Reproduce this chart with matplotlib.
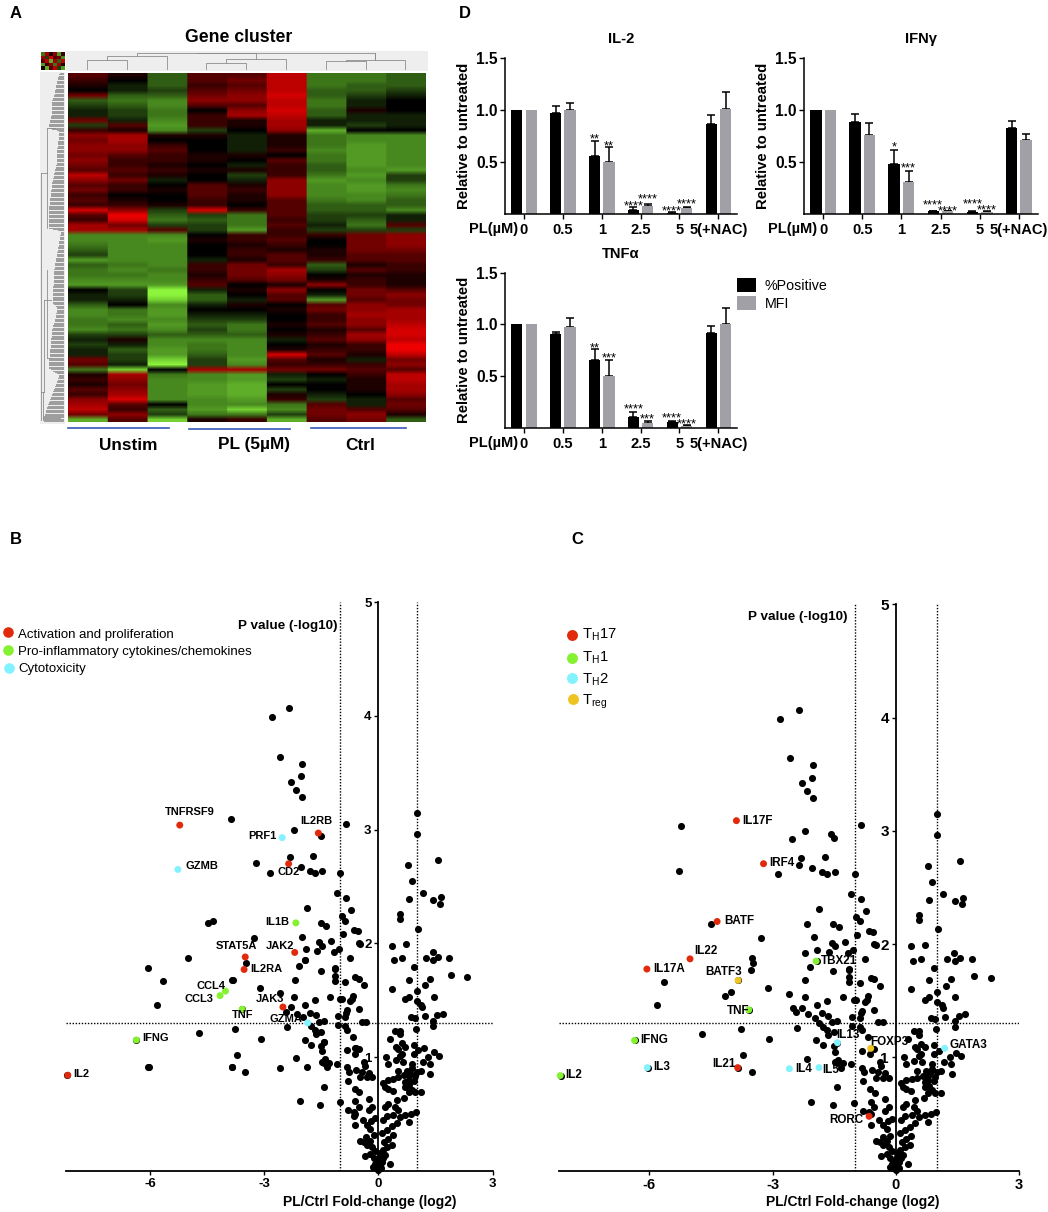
import numpy as np
import matplotlib
matplotlib.use("Agg")
import matplotlib.pyplot as plt
from matplotlib.colors import LinearSegmentedColormap
from matplotlib.patches import Rectangle

plt.rcParams['font.family'] = ['Liberation Sans', 'DejaVu Sans']
plt.rcParams['mathtext.fontset'] = 'custom'
plt.rcParams['mathtext.rm'] = 'Liberation Sans'
plt.rcParams['mathtext.default'] = 'rm'

W, H = 1048, 1212

# ---------- Panel A data: expression (-9 green .. +9 red) ----------
sample_groups = ["Unstim", "PL (5µM)", "Ctrl"]
heat_rows = [
 [3,1,-3,3,3,7,-4,-4,-3],[2,0,-3,3,4,7,-4,-4,-3],[1,-1,-3,2,3,7,-4,-3,-3],[0,-1,-2,3,4,7,-3,-3,-2],
 [4,-3,-3,4,5,8,-3,-2,-1],[-3,-4,-5,5,5,7,-4,-1,0],[-2,-3,-5,3,3,7,-4,-1,0],[-1,-2,-4,0,5,8,-3,1,0],
 [-1,-2,-4,2,6,7,-3,-1,-1],[4,-1,-5,2,1,6,-1,-1,-1],[-2,3,-6,2,1,6,-1,-2,-1],[2,1,-5,-2,0,5,-7,0,0],
 [5,6,1,1,-1,1,-4,-5,-5],[4,6,0,0,-1,1,-4,-5,-5],[5,5,2,0,-1,1,-4,-6,-5],[5,5,3,0,-1,2,-5,-6,-5],
 [4,3,2,1,1,0,-4,-6,-5],[5,2,2,1,0,3,-4,-6,-5],[4,2,1,0,-1,2,-3,-6,-5],[3,3,2,1,1,2,-3,-5,-6],
 [7,2,1,0,-2,2,-4,-6,-2],[5,4,-1,0,-1,5,-6,-5,-2],[3,2,0,3,1,5,-5,-6,-4],[4,2,1,3,2,5,-5,-6,-5],
 [2,0,0,3,1,5,-5,-5,-4],[3,1,0,2,1,3,-4,-5,-3],[2,2,1,2,0,3,-3,-3,-3],[8,5,-2,8,2,3,-3,-3,-5],
 [3,9,-3,-2,-4,3,-2,-2,-1],[2,8,-4,-3,-4,2,-2,-3,-1],[6,4,-2,-2,-4,3,-1,-4,3],[6,6,3,-2,-6,2,-2,-2,-2],
 [-5,-5,-5,0,2,2,2,4,5],[-5,-5,-6,1,2,3,0,4,5],[-4,-5,-5,0,1,2,0,4,5],[-3,-5,-5,0,2,1,1,4,4],
 [-2,-5,-5,0,2,3,1,3,3],[-6,-5,-5,-1,1,3,2,3,3],[-3,-4,-5,2,4,2,-3,1,2],[-4,-5,-4,2,4,6,-2,3,2],
 [-4,-4,-5,1,4,5,0,1,1],[-5,-5,-5,2,3,4,1,2,1],[-6,-6,-6,3,0,1,5,2,1],[0,-2,-9,-1,1,5,0,4,3],
 [-1,-2,-9,-3,0,3,-1,4,5],[-1,-1,-8,-3,-1,3,-6,3,4],[-3,0,-5,-1,1,0,3,5,4],[-5,-4,-6,0,0,1,4,5,6],
 [-5,-4,-6,-1,-1,0,2,6,6],[-4,-5,-5,-2,-2,0,2,5,6],[-4,-3,-6,-3,-4,1,3,5,7],[-5,-4,-5,-2,-4,0,1,3,8],
 [-2,-2,-3,-3,-3,1,2,6,8],[-1,1,-5,-5,-5,-1,3,5,7],[-2,-1,-5,-4,-5,0,1,2,9],[-1,-3,-6,-4,-5,1,2,2,9],
 [-1,-2,-6,-3,-5,8,3,1,7],[4,-2,-8,-2,-6,3,1,-1,4],[3,-1,-9,-2,-5,2,2,2,5],[-4,-8,0,6,6,4,4,3,3],
 [1,6,-4,-5,-6,-1,0,2,7],[2,5,-5,-5,-6,-2,-1,1,7],[1,4,-5,-6,-7,0,0,1,6],[3,5,-5,-6,-7,-2,0,1,6],
 [2,6,-5,-6,-7,1,-1,0,5],[5,8,-5,-5,-6,2,-2,-1,3],[6,3,0,-5,-5,-4,3,-1,4],[7,2,-3,-6,-8,-5,4,3,3],
 [4,5,-2,-4,-4,-2,4,5,1],[-7,3,-8,1,2,-7,3,4,-3],
]
thumb_rows = [[-4,6,1,5,-6,2],[6,-2,8,3,4,-5],[3,7,-7,6,-3,7],[-6,2,5,-4,6,1],[1,-7,3,7,-2,-6]]

# ---------- Panel D data ----------
dose_labels = ["0", "0.5", "1", "2.5", "5", "5(+NAC)"]
il2_pos = [1.0, 0.97, 0.55, 0.04, 0.01, 0.86]
il2_pos_top = [1.0, 1.04, 0.70, 0.06, 0.015, 0.95]
il2_mfi = [1.0, 1.0, 0.50, 0.07, 0.05, 1.01]
il2_mfi_top = [1.0, 1.06, 0.64, 0.09, 0.06, 1.17]
ifn_pos = [1.0, 0.88, 0.48, 0.025, 0.02, 0.82]
ifn_pos_top = [1.0, 0.96, 0.61, 0.03, 0.025, 0.89]
ifn_mfi = [1.0, 0.76, 0.30, 0.025, 0.02, 0.71]
ifn_mfi_top = [1.0, 0.87, 0.41, 0.03, 0.03, 0.77]
tnf_pos = [1.0, 0.91, 0.66, 0.11, 0.06, 0.92]
tnf_pos_top = [1.0, 0.93, 0.76, 0.15, 0.065, 0.99]
tnf_mfi = [1.0, 0.98, 0.50, 0.05, 0.02, 1.0]
tnf_mfi_top = [1.0, 1.06, 0.66, 0.07, 0.03, 1.16]
# (group, series, stars, y)
il2_stars = [(2,0,"**",.75),(2,1,"**",.685),(3,0,"****",.105),(3,1,"****",.175),(4,0,"****",.06),(4,1,"****",.13)]
ifn_stars = [(2,0,"*",.67),(2,1,"***",.47),(3,0,"****",.115),(3,1,"****",.06),(4,0,"****",.13),(4,1,"****",.07)]
tnf_stars = [(2,0,"**",.81),(2,1,"***",.705),(3,0,"****",.215),(3,1,"***",.12),(4,0,"****",.13),(4,1,"****",.07)]

# ---------- Volcano data ----------
volcano = [
(-2.35,4.07),(-2.81,3.99),(-2.58,3.64),(-2.02,3.58),(-2.04,3.47),(-2.29,3.42),(-2.16,3.35),(-2.01,3.29),
(-0.85,3.05),(-2.22,3.0),(-1.51,2.94),(1.01,3.15),(1.0,2.96),(0.78,2.69),(1.57,2.73),(0.88,2.55),
(-2.32,2.76),(-1.72,2.77),(-2.86,2.62),(-2.04,2.67),(-1.80,2.64),(-1.67,2.62),(-1.48,2.64),(-1.0,2.62),
(-1.08,2.44),(-0.85,2.40),(0.8,2.39),(1.16,2.44),(1.43,2.38),(1.63,2.41),(1.62,2.35),
(-1.87,2.31),(-0.72,2.29),(-0.97,2.24),(-0.87,2.2),(0.57,2.26),(0.57,2.21),(-1.52,2.18),(-1.38,2.15),(-4.49,2.18),
(-0.65,2.12),(-0.55,2.11),(-0.94,2.08),(1.03,2.13),(-2.0,2.06),(-3.27,2.05),(-1.56,2.01),(-1.24,2.02),(-1.48,1.98),
(-0.52,2.0),(-0.49,1.99),(0.36,1.98),(0.72,1.99),(-1.91,1.95),(-1.62,1.93),(-1.05,1.95),(-1.16,1.92),(-0.76,1.87),
(0.42,1.85),(0.62,1.87),(1.25,1.87),(1.42,1.92),(1.43,1.85),(1.57,1.88),(1.85,1.87),(-3.47,1.83),
(-1.93,1.85),(-2.09,1.80),(-1.15,1.78),(-1.13,1.77),(-1.52,1.76),(0.92,1.79),(1.9,1.72),(2.32,1.70),(0.8,1.68),
(1.34,1.69),(1.22,1.63),(-1.15,1.71),(-1.15,1.67),(-0.87,1.66),(-0.61,1.7),(-0.52,1.69),(-0.39,1.63),(-2.2,1.68),
(-3.83,1.68),(-5.65,1.67),(-3.12,1.61),(-2.6,1.56),(0.36,1.6),(1.0,1.58),(1.45,1.53),(-2.22,1.53),(-1.28,1.53),
(-1.67,1.5),(-1.01,1.51),(-0.97,1.51),(-0.67,1.54),(-0.74,1.49),(-0.7,1.51),(0.8,1.53),(0.7,1.51),(1.0,1.49),(1.12,1.46),(1.15,1.44),
(-1.93,1.46),(-5.81,1.46),(-2.29,1.44),(-2.42,1.4),(-2.14,1.38),(-1.8,1.39),(-1.64,1.37),(-1.97,1.35),(-0.83,1.41),
(-0.52,1.42),(-1.07,1.36),(-0.87,1.35),(-0.85,1.39),(-1.42,1.32),(-1.55,1.31),(-0.43,1.31),(-0.32,1.31),(0.85,1.35),(0.95,1.34),(1.21,1.36),
(1.55,1.37),(1.69,1.38),(1.43,1.32),(1.43,1.27),(0.98,1.25),(-1.06,1.28),(-0.87,1.27),(-0.83,1.24),(-1.77,1.27),
(-1.67,1.24),(-1.5,1.22),(-1.64,1.2),(-2.41,1.26),(-3.76,1.25),(-4.72,1.21),(-3.08,1.16),(-0.67,1.18),(0.44,1.23),
(0.56,1.23),(0.57,1.2),(0.29,1.16),(-1.94,1.15),(-1.43,1.13),(-1.78,1.11),(-1.51,1.1),(-1.49,1.05),(-0.83,1.06),
(-0.6,1.08),(-0.52,1.07),(-0.63,1.03),(0.46,1.09),(0.61,1.12),(0.52,1.07),(0.7,1.09),(0.61,1.03),(0.94,1.11),(1.05,1.06),
(0.57,1.01),(1.47,1.04),(1.6,1.01),(1.31,1.0),(-3.71,1.02),(-2.16,0.99),(0.2,1.0),(0.45,0.97),(0.25,0.94),
(0.64,0.96),(0.87,0.94),(0.94,1.03),(1.18,0.96),(1.34,0.94),(1.11,0.88),(-6.04,0.91),(-3.85,0.91),(-3.5,0.87),
(-1.49,0.96),(-1.4,0.98),(-1.43,0.95),(-1.29,0.95),(-1.34,0.91),(-1.09,0.94),(-0.83,0.91),(-0.77,0.87),
(-0.59,0.89),(-0.44,0.87),(-0.38,0.96),(-0.35,0.92),(-0.26,0.86),(-0.17,0.82),(-0.48,0.82),(-0.31,0.82),(-0.8,0.79),(1.36,0.85),
(0.13,0.77),(0.26,0.8),(0.39,0.81),(0.52,0.82),(0.66,0.84),(0.52,0.88),(0.74,0.88),(0.87,0.9),(1.0,0.87),(0.96,0.83),
(0.92,0.79),(0.79,0.8),(0.7,0.78),(0.81,0.75),(0.87,0.71),(0.96,0.69),(1.11,0.69),(0.17,0.74),(0.26,0.72),(0.38,0.7),
(0.79,0.84),(0.83,0.86),(0.7,0.74),(0.79,0.69),(0.68,0.64),(0.48,0.62),(0.26,0.59),(0.17,0.56),(0.44,0.56),(0.52,0.53),
(0.22,0.48),(0.39,0.49),(0.7,0.49),(0.85,0.5),(0.98,0.52),(0.57,0.47),(0.79,0.43),(0.48,0.42),(0.35,0.39),(0.22,0.36),
(0.13,0.45),(0.38,0.31),(0.26,0.28),(0.35,0.23),(0.22,0.21),(0.29,0.06),(0.11,0.18),(0.17,0.14),(0.04,0.12),(0.09,0.08),
(-0.04,0.09),(-0.13,0.11),(0.0,0.04),(0.0,0.01),(-0.04,0.05),(0.04,0.05),(-0.09,0.06),(0.13,0.11),(-0.22,0.15),(-0.35,0.13),
(-0.17,0.21),(-0.09,0.17),(-0.39,0.25),(-0.48,0.26),(-0.31,0.23),(-0.32,0.3),(-0.13,0.31),(-0.22,0.37),(-0.31,0.4),(-0.09,0.46),
(-0.41,0.45),(-0.61,0.4),(-0.26,0.53),(-0.17,0.56),(-0.26,0.63),(-0.52,0.56),(-0.61,0.61),(-0.64,0.52),(-0.8,0.53),(-0.61,0.5),
(-1.02,0.6),(-1.54,0.58),(-2.07,0.61),(-1.44,0.74),(-0.63,0.72),(-0.51,0.69),(0.06,0.15),(0.0,0.08),(-0.06,0.02),(0.07,0.02),(0.03,0.16),(-0.15,0.03),(-0.22,0.26),(0.15,0.25),(0.1,0.33),(-0.2,0.44),
]

bio_genes = ["TNFRSF9","IL2RB","CD2","IL2","JAK2","STAT5A","IL2RA","JAK3","PRF1","GZMB","GZMA","IL1B","CCL4","CCL3","TNF","IFNG"]
bio_x = [-5.22,-1.58,-2.36,-8.16,-2.2,-3.5,-3.53,-2.51,-2.53,-5.27,-1.86,-2.17,-4.02,-4.16,-3.58,-6.36]
bio_y = [3.04,2.97,2.70,0.84,1.92,1.88,1.77,1.44,2.93,2.65,1.30,2.18,1.58,1.54,1.42,1.15]
bio_cat = [0,0,0,0,0,0,0,0,2,2,2,1,1,1,1,1]

th_genes = ["IL17F","IRF4","BATF","IL22","IL17A","IL21","RORC","BATF3","TBX21","TNF","IFNG","IL2","IL3","IL4","IL5","IL13","GATA3","FOXP3"]
th_x = [-3.88,-3.22,-4.35,-5.01,-6.06,-3.85,-0.65,-3.84,-1.94,-3.58,-6.36,-8.17,-6.05,-2.59,-1.87,-1.42,1.19,-0.61]
th_y = [3.09,2.71,2.2,1.87,1.78,0.91,0.48,1.68,1.85,1.42,1.15,0.84,0.91,0.9,0.91,1.13,1.08,1.08]
th_cat = [0,0,0,0,0,0,0,3,1,1,1,1,2,2,2,2,2,3]

bio_names = ["Activation and proliferation", "Pro-inflammatory cytokines/chemokines", "Cytotoxicity"]
th_names = ["T$_{H}$17", "T$_{H}$1", "T$_{H}$2", "T$_{reg}$"]

RED, GREEN, CYAN, YELLOW = "#e12a0c", "#84f230", "#82f2ff", "#eec322"
cat_col = [RED, GREEN, CYAN, YELLOW]
GREY = "#a0a0a6"

fig = plt.figure(figsize=(W/100, H/100), dpi=100, facecolor="white")

def axpx(l, t, r, b, **kw):
    return fig.add_axes([l/W, 1-b/H, (r-l)/W, (b-t)/H], **kw)

ov = fig.add_axes([0, 0, 1, 1], zorder=10)
ov.set_xlim(0, W); ov.set_ylim(H, 0); ov.axis("off"); ov.patch.set_alpha(0)

for s, x, y in [("A",16,14),("D",465,14),("B",16,539),("C",577,539)]:
    ov.text(x, y, s, fontsize=12, fontweight="bold", ha="center", va="center")

# ---------- Panel A ----------
hm_cmap = LinearSegmentedColormap.from_list("gr", [(0,"#8cf53c"),(0.12,"#5aa828"),(0.3,"#3a7018"),(0.5,"#000000"),(0.75,"#800000"),(1,"#ee0000")])
ov.add_patch(Rectangle((66,51),362,20,fc="#eeeeee",ec="none",zorder=0))
ov.add_patch(Rectangle((40,72),25,352,fc="#eeeeee",ec="none",zorder=0))
axh = axpx(67.7,72.7,425,421.7)
axh.imshow(np.repeat(np.array(heat_rows)/9.0,40,axis=1),cmap=hm_cmap,vmin=-1,vmax=1,aspect="auto",interpolation="bilinear")
axh.axis("off")
axt = axpx(41,52,65,70)
axt.imshow(np.array(thumb_rows)/9.0,cmap=hm_cmap,vmin=-1,vmax=1,aspect="auto",interpolation="nearest")
axt.axis("off")
ov.text(239,37,"Gene cluster",fontsize=12.7,fontweight="bold",ha="center",va="center")
for name,x in zip(sample_groups,[128,254,360]):
    ov.text(x,445,name,fontsize=12.4,fontweight="bold",ha="center",va="center")
for a,b,y in [(68,169,428.3),(189,290,429.3),(311,406,428.3)]:
    ov.plot([a,b],[y,y],color="#3558b8",lw=1.2)

dc = "#8c8c8c"
for x1,x2,yt,y1,y2 in [(87,127,60,69,69),(107,167,56,60,69),(137,256,53,56,59),(206,246,63,69,69),(226,286,59,63,69),
                       (197,375,52.5,53,53),(326,366,61,69,69),(346,405,59.5,61,69),(375,375,52.5,59.5,59.5)]:
    ov.plot([x1,x1,x2,x2],[y1,yt,yt,y2],color=dc,lw=0.6,zorder=1)
env_y = [73,84,94,100,115,128,131,148,165,181,205,228,231,235,252,268,285,302,308,318,328,358,368,375,388,401,418]
env_x = [58,55,53,51,50,47,58,56,55,51,48,47,60,59,56,53,52,51,56,54,51,48,47,58,53,48,42]
for y in np.arange(73,422,1.3):
    ov.plot([np.interp(y,env_y,env_x)+1.5,63],[y,y],color="#9c9c9c",lw=0.7,zorder=1)
for x,y1,y2 in [(41,173,392),(47,128,173),(47,173,228),(44,300,392),(47,270,358),(43,392,420),(41,392,420)]:
    ov.plot([x,x],[y1,y2],color=dc,lw=0.6,zorder=1)
for y,x1,x2 in [(173,41,47),(128,47,55),(300,44,51),(358,47,51),(418,43,60),(392,41,44)]:
    ov.plot([x1,x2],[y,y],color=dc,lw=0.6,zorder=1)

# ---------- Panel D ----------
def bars(box, title, tx, ty, pos, pos_top, mfi, mfi_top, stars):
    l,t,r,b = box
    ax = axpx(l,t,r,b)
    ax.patch.set_alpha(0)
    x = np.arange(len(pos))
    off, w = 0.185, 0.29
    ax.bar(x-off,pos,w,color="black",zorder=2)
    ax.bar(x+off,mfi,w,color=GREY,zorder=2)
    for i in range(len(pos)):
        if pos_top[i] > pos[i]:
            ax.errorbar(x[i]-off,pos[i],yerr=[[0],[pos_top[i]-pos[i]]],color="black",capsize=2.8,lw=1.1,capthick=1.1,zorder=1)
        if mfi_top[i] > mfi[i]:
            ax.errorbar(x[i]+off,mfi[i],yerr=[[0],[mfi_top[i]-mfi[i]]],color="black",capsize=2.8,lw=1.1,capthick=1.1,zorder=1)
    for g,s,txt,y in stars:
        ax.annotate(txt,(g+(off if s else -off),y),xytext=(0,-4.9),textcoords="offset points",ha="center",va="baseline",fontsize=9.4)
    ax.set_xlim(-0.49,5.49); ax.set_ylim(0,1.5)
    ax.set_xticks(x); ax.set_xticklabels(dose_labels,fontsize=10.6,fontweight="bold")
    ax.set_yticks([0.5,1.0,1.5]); ax.set_yticklabels(["0.5","1.0","1.5"],fontsize=11.2,fontweight="bold")
    ax.tick_params(axis="y",length=3.5,width=1,pad=1.5)
    ax.tick_params(axis="x",length=3.5,width=1,pad=3)
    for sp in ["top","right"]: ax.spines[sp].set_visible(False)
    for sp in ["left","bottom"]: ax.spines[sp].set_linewidth(1.1)
    ax.set_ylabel("Relative to untreated",fontsize=10.7,fontweight="bold")
    ax.yaxis.set_label_coords(-0.146,0.5)
    ov.text(tx,ty,title,fontsize=10.6,fontweight="bold",ha="center",va="center")
    ov.text(l+13,b+15,"PL(µM)",fontsize=10.5,fontweight="bold",ha="right",va="center")

bars((504.9,57.7,737.4,213.7),"IL-2",621,39,il2_pos,il2_pos_top,il2_mfi,il2_mfi_top,il2_stars)
bars((803.9,57.7,1038,213.7),"IFNγ",921,39,ifn_pos,ifn_pos_top,ifn_mfi,ifn_mfi_top,ifn_stars)
bars((504.9,272.7,737.4,428),"TNFα",621,254,tnf_pos,tnf_pos_top,tnf_mfi,tnf_mfi_top,tnf_stars)
ov.add_patch(Rectangle((737.4,278),18.6,14,fc="black",ec="none"))
ov.add_patch(Rectangle((737.4,296),18.6,14,fc=GREY,ec="none"))
ov.text(764.6,285.5,"%Positive",fontsize=10.3,va="center")
ov.text(764.6,304,"MFI",fontsize=10.3,va="center")

# ---------- Panels B & C ----------
def volc(box, gx, gy, gc, others_x, others_y, fs_x, fs_y):
    l,t,r,b = box
    ax = axpx(l,t,r,b)
    ax.patch.set_alpha(0)
    vx = [p[0] for p in volcano]+list(others_x)
    vy = [p[1] for p in volcano]+list(others_y)
    ax.scatter(vx,vy,s=26,c="black",linewidths=0,zorder=3,clip_on=False)
    ax.scatter(gx,gy,s=25,c=[cat_col[c] for c in gc],linewidths=0,zorder=4,clip_on=False)
    ax.axhline(1.3,color="black",lw=1,ls=(0,(1,1.2)),zorder=2)
    for v in (-1,1):
        ax.axvline(v,color="black",lw=1,ls=(0,(1,1.2)),zorder=2)
    ax.set_xlim(-8.2,3); ax.set_ylim(0,5)
    ax.spines["left"].set_position(("data",0))
    for sp in ["top","right"]: ax.spines[sp].set_visible(False)
    for sp in ["left","bottom"]: ax.spines[sp].set_linewidth(1.3)
    ax.set_xticks([-6,-3,0,3]); ax.set_xticklabels(["-6","-3","0","3"],fontsize=fs_x,fontweight="bold")
    ax.set_yticks([1,2,3,4,5]); ax.set_yticklabels(["1","2","3","4","5"],fontsize=fs_y,fontweight="bold")
    ax.tick_params(axis="both",length=3,width=1,pad=2)
    return ax

axb = volc((66.3,602.3,492.7,1170.7),bio_x,bio_y,bio_cat,th_x,th_y,9.5,9.5)
axc = volc((559,604.3,1019,1170.7),th_x,th_y,th_cat,bio_x,bio_y,10.5,11)

for x,nm,y in zip([18,18,18],bio_names,[635,652,669]):
    ov.text(x,y,nm,fontsize=9.5,va="center")
for x,y,c in zip([8.3,8.3,8.7],[631.7,650.3,668],cat_col):
    ov.scatter([x],[y],s=58,c=c,linewidths=0,zorder=5)
for nm,y,yd,c,xd in zip(th_names,[635,657.7,680,702],[635,657.7,678.3,699.3],cat_col,[571.7,571.7,572.3,572.7]):
    ov.text(582,y,nm,fontsize=10.6,va="center")
    ov.scatter([xd],[yd],s=62,c=c,linewidths=0,zorder=5)

ov.text(338,626,"P value (-log10)",fontsize=9.7,fontweight="bold",ha="right",va="center")
ov.text(847.3,616.7,"P value (-log10)",fontsize=9.7,fontweight="bold",ha="right",va="center")
ov.text(369.7,1201.7,"PL/Ctrl Fold-change (log2)",fontsize=10,fontweight="bold",ha="center",va="center")
ov.text(853,1201.7,"PL/Ctrl Fold-change (log2)",fontsize=10,fontweight="bold",ha="center",va="center")

bio_label_px = {"TNFRSF9":(190,811.7),"IL2RB":(316.7,821.3),"PRF1":(262,836.3),"CD2":(288.7,872),"GZMB":(201.7,866),
 "IL1B":(277,921.7),"JAK2":(280,945.7),"STAT5A":(236,945.7),"IL2RA":(266,969),"CCL4":(211.3,986.3),"CCL3":(199.3,998.7),
 "JAK3":(270.3,998.7),"TNF":(242.7,1015),"GZMA":(286,1019.3),"IFNG":(155.7,1038.3),"IL2":(81,1073.7)}
th_label_px = {"IL17F":(757.3,821),"IRF4":(782,862.7),"BATF":(739,921),"IL22":(706,951.3),"IL17A":(668.7,969.3),
 "BATF3":(723.7,971.7),"TBX21":(839.3,961.3),"TNF":(738,1011),"IFNG":(654,1040.3),"IL3":(661.3,1066.7),"IL2":(574,1075.3),
 "IL21":(723.7,1064.3),"IL4":(803.7,1069),"IL5":(831,1070),"IL13":(847.7,1035.3),"FOXP3":(889,1042),"GATA3":(968,1044.7),"RORC":(846,1120.3)}
for g in bio_genes:
    x,y = bio_label_px[g]
    ov.text(x,y,g,fontsize=8,fontweight="bold",ha="center",va="center")
for g in th_genes:
    x,y = th_label_px[g]
    ov.text(x,y,g,fontsize=8.4,fontweight="bold",ha="center",va="center")

fig.savefig("out.png",dpi=100)
